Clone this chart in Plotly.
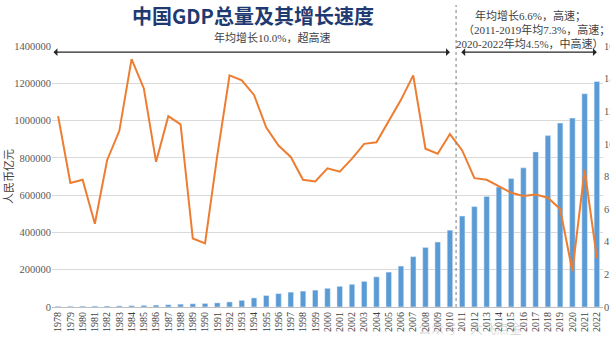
import plotly.graph_objects as go

years = list(range(1978, 2023))
gdp = [3679, 4101, 4588, 4936, 5373, 6021, 7279, 9099, 10376, 12175,
       15180, 17180, 18873, 22006, 27195, 35673, 48638, 61340, 71814, 79715,
       85196, 90564, 100280, 110863, 121717, 137422, 161840, 187319, 219438, 270092,
       319245, 348518, 412119, 487940, 538580, 592963, 643563, 688858, 746395, 832036,
       919281, 986515, 1013567, 1143670, 1210207]
growth = [11.7, 7.6, 7.8, 5.1, 9.0, 10.8, 15.2, 13.4, 8.9, 11.7,
          11.2, 4.2, 3.9, 9.3, 14.2, 13.9, 13.0, 11.0, 9.9, 9.2,
          7.8, 7.7, 8.5, 8.3, 9.1, 10.0, 10.1, 11.4, 12.7, 14.2,
          9.7, 9.4, 10.6, 9.6, 7.9, 7.8, 7.4, 7.0, 6.8, 6.9,
          6.7, 6.0, 2.2, 8.4, 3.0]
left_ticks = [0, 200000, 400000, 600000, 800000, 1000000, 1200000, 1400000]

serif = "Liberation Serif, Noto Sans CJK SC"
cjk = "Liberation Serif, Noto Sans CJK SC"

fig = go.Figure()
fig.add_trace(go.Bar(x=years, y=gdp, marker_color="#5b9bd5", width=0.45,
                     showlegend=False))
fig.add_trace(go.Scatter(x=years, y=growth, yaxis="y2", mode="lines",
                         line=dict(color="#ed7d31", width=2), showlegend=False))

fig.update_layout(
    width=610, height=341,
    margin=dict(l=52, r=7, t=46, b=34),
    plot_bgcolor="white", paper_bgcolor="white",
    xaxis=dict(range=[1977.5, 2022.5], tickmode="array", tickvals=years,
               ticktext=[str(y) for y in years], tickangle=-90,
               tickfont=dict(family=serif, size=10, color="#404040"),
               showgrid=False, showline=True, linecolor="#bfbfbf", linewidth=1,
               ticks="", automargin=False),
    yaxis=dict(range=[0, 1400000], tickmode="array", tickvals=left_ticks,
               ticktext=[str(v) for v in left_ticks],
               tickfont=dict(family=serif, size=10.5, color="#595959"),
               showgrid=True, gridcolor="#d9d9d9", gridwidth=1, zeroline=False,
               title=dict(text="人民币亿元", font=dict(family="Noto Sans CJK SC", size=11, color="#404040"),
                          standoff=4),
               automargin=False),
    yaxis2=dict(range=[0, 16], dtick=2, overlaying="y", side="right",
                showgrid=False, zeroline=False,
                tickfont=dict(family=serif, size=10.5, color="#595959"),
                automargin=False),
    bargap=0.5,
)


def px(xp, yp):
    return dict(xref="paper", yref="paper", x=(xp - 52) / 551, y=(307 - yp) / 261,
                xanchor="center", yanchor="middle", showarrow=False)


annotations = [
    dict(text="<b>中国GDP总量及其增长速度</b>",
         font=dict(family="Noto Sans CJK SC", size=20, color="#1f3a70"), **px(253, 15)),
    dict(text="年均增长10.0%，超高速",
         font=dict(family=cjk, size=11, color="#404040"), **px(272, 38)),
    dict(text="年均增长6.6%，高速；",
         font=dict(family=cjk, size=11, color="#404040"), **px(530, 15)),
    dict(text="（2011-2019年均7.3%，高速；",
         font=dict(family=cjk, size=11, color="#404040"), **px(536, 30)),
    dict(text="2020-2022年均4.5%，中高速）",
         font=dict(family=cjk, size=11, color="#404040"), **px(530, 44)),
    dict(text="公众号·大飞点金",
         font=dict(family="Noto Sans CJK SC", size=13, color="rgba(150,150,150,0.35)"),
         **px(470, 327)),
]
# double-headed arrows
for x0, x1 in [(1977.5, 2010.0), (2010.8, 2022.0)]:
    annotations.append(dict(x=x1, y=1367000, ax=x0, ay=1367000, xref="x", yref="y",
                            axref="x", ayref="y", text="", showarrow=True,
                            arrowhead=1, arrowside="end+start", arrowsize=1.2,
                            arrowwidth=1.1, arrowcolor="#262626"))
fig.update_layout(annotations=annotations)

fig.add_shape(type="line", x0=2010.5, x1=2010.5, xref="x", yref="paper",
              y0=0, y1=(307 - 5) / 261, line=dict(color="#7f7f7f", width=1, dash="dot"))

fig.write_html("out.html")
